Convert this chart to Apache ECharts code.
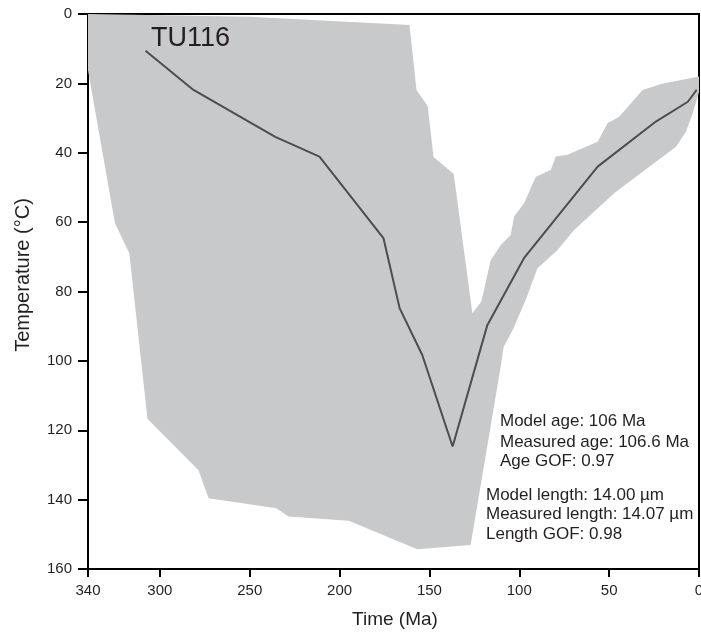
<!DOCTYPE html>
<html>
<head>
<meta charset="utf-8">
<script src="https://cdn.jsdelivr.net/npm/echarts@6/dist/echarts.min.js"></script>
<style>
html,body{margin:0;padding:0;background:#fff;}
#chart{width:701px;height:634px;}
</style>
</head>
<body>
<div id="chart"></div>
<script>
// Envelope (acceptable-fit region) polygon vertices: time (Ma), temperature (°C)
var envTime = [340, 250, 161.1, 157.2, 151, 147.7, 136.5, 126.1, 121.1, 115.9,
  110.3, 104.8, 102.9, 97.4, 90.8, 82.5, 79.7, 73.2, 56.4, 50.9,
  44.4, 31.4, 21.2, 0, 0, 3.5, 7.2, 12.8, 27.7, 47.2,
  69.5, 78.7, 89.9, 96.4, 103.7, 108.7, 110.3, 127.1, 156.8, 194.9,
  228.4, 235.2, 272.9, 278.5, 306.9, 317, 325, 340];
var envTemp = [0, 0.8, 3.2, 21.9, 26.5, 41.2, 46.1, 86.3, 82.9, 70.9,
  66.6, 63.7, 58.4, 54.6, 46.9, 45.0, 41.1, 40.6, 36.8, 31.5,
  29.6, 21.9, 20.2, 18.0, 22.5, 28.6, 33.9, 38.3, 44.0, 51.7,
  62.3, 68.0, 73.3, 82.4, 91.1, 96.0, 101.5, 153.1, 154.3, 146.1,
  144.9, 142.5, 139.6, 131.5, 116.7, 69.0, 60.3, 16.2];

// Best-fit path
var lineTime = [308, 281.3, 235.8, 211.2, 175.6, 166.6, 154, 137.1, 117.8, 97.4, 56.4, 24, 6.2, 1.3];
var lineTemp = [10.6, 21.9, 35.4, 41.1, 64.6, 84.8, 98.3, 124.7, 89.7, 70.4, 44.0, 31.0, 25.3, 21.9];

var sampleName = 'TU116';
var statsAge = ['Model age: 106 Ma', 'Measured age: 106.6 Ma', 'Age GOF: 0.97'];
var statsLength = ['Model length: 14.00 µm', 'Measured length: 14.07 µm', 'Length GOF: 0.98'];
var xName = 'Time (Ma)';
var yName = 'Temperature (°C)';

var FONT = '"Liberation Sans", Arial, Helvetica, sans-serif';
var TXT = '#231f20';

var envData = envTime.map(function (t, i) { return [t, envTemp[i]]; });
var lineData = lineTime.map(function (t, i) { return [t, lineTemp[i]]; });

var chart = echarts.init(document.getElementById('chart'), null, {renderer: 'canvas'});

var graphics = [
  {type: 'text', x: 151, y: 39, style: {text: sampleName, font: '27px ' + FONT, fill: TXT, align: 'left', verticalAlign: 'middle'}, z: 100},
  {type: 'text', x: 23, y: 275, rotation: Math.PI / 2, style: {text: yName, font: '20px ' + FONT, fill: TXT, align: 'center', verticalAlign: 'middle'}, z: 100},
  {type: 'text', x: 395, y: 620, style: {text: xName, font: '19px ' + FONT, fill: TXT, align: 'center', verticalAlign: 'middle'}, z: 100}
];
var ageY = [421.5, 442, 461.5];
statsAge.forEach(function (s, i) {
  graphics.push({type: 'text', x: 500, y: ageY[i], style: {text: s, font: '17px ' + FONT, fill: TXT, align: 'left', verticalAlign: 'middle'}, z: 100});
});
var lenY = [495, 514.5, 534];
statsLength.forEach(function (s, i) {
  graphics.push({type: 'text', x: 486, y: lenY[i], style: {text: s, font: '17px ' + FONT, fill: TXT, align: 'left', verticalAlign: 'middle'}, z: 100});
});

var option = {
  animation: false,
  backgroundColor: '#ffffff',
  grid: {left: 88, right: 2, top: 14, bottom: 65, show: true, borderColor: '#000', borderWidth: 2, backgroundColor: 'transparent', containLabel: false, outerBoundsMode: 'none'},
  xAxis: {
    type: 'value', min: 0, max: 340, interval: 50, inverse: true, position: 'bottom',
    axisLine: {show: true, onZero: false, lineStyle: {color: '#000', width: 2}},
    axisTick: {show: true, length: 8, lineStyle: {color: '#000', width: 2}},
    axisLabel: {color: TXT, fontSize: 15, fontFamily: FONT, margin: 14},
    splitLine: {show: false}
  },
  yAxis: {
    type: 'value', min: 0, max: 160, interval: 20, inverse: true, position: 'left',
    axisLine: {show: true, onZero: false, lineStyle: {color: '#000', width: 2}},
    axisTick: {show: true, length: 10, lineStyle: {color: '#000', width: 2}},
    axisLabel: {color: TXT, fontSize: 15, fontFamily: FONT, margin: 16},
    splitLine: {show: false}
  },
  series: [
    {
      type: 'custom',
      data: [0],
      clip: true,
      z: 1,
      renderItem: function (params, api) {
        var pts = envData.map(function (d) { return api.coord(d); });
        return {type: 'polygon', shape: {points: pts}, style: {fill: '#c8c9cb', stroke: null}};
      }
    },
    {
      type: 'line',
      data: lineData,
      showSymbol: false,
      symbol: 'none',
      z: 5,
      lineStyle: {color: '#4d4d4f', width: 2}
    }
  ],
  graphic: graphics
};
chart.setOption(option);
</script>
</body>
</html>
